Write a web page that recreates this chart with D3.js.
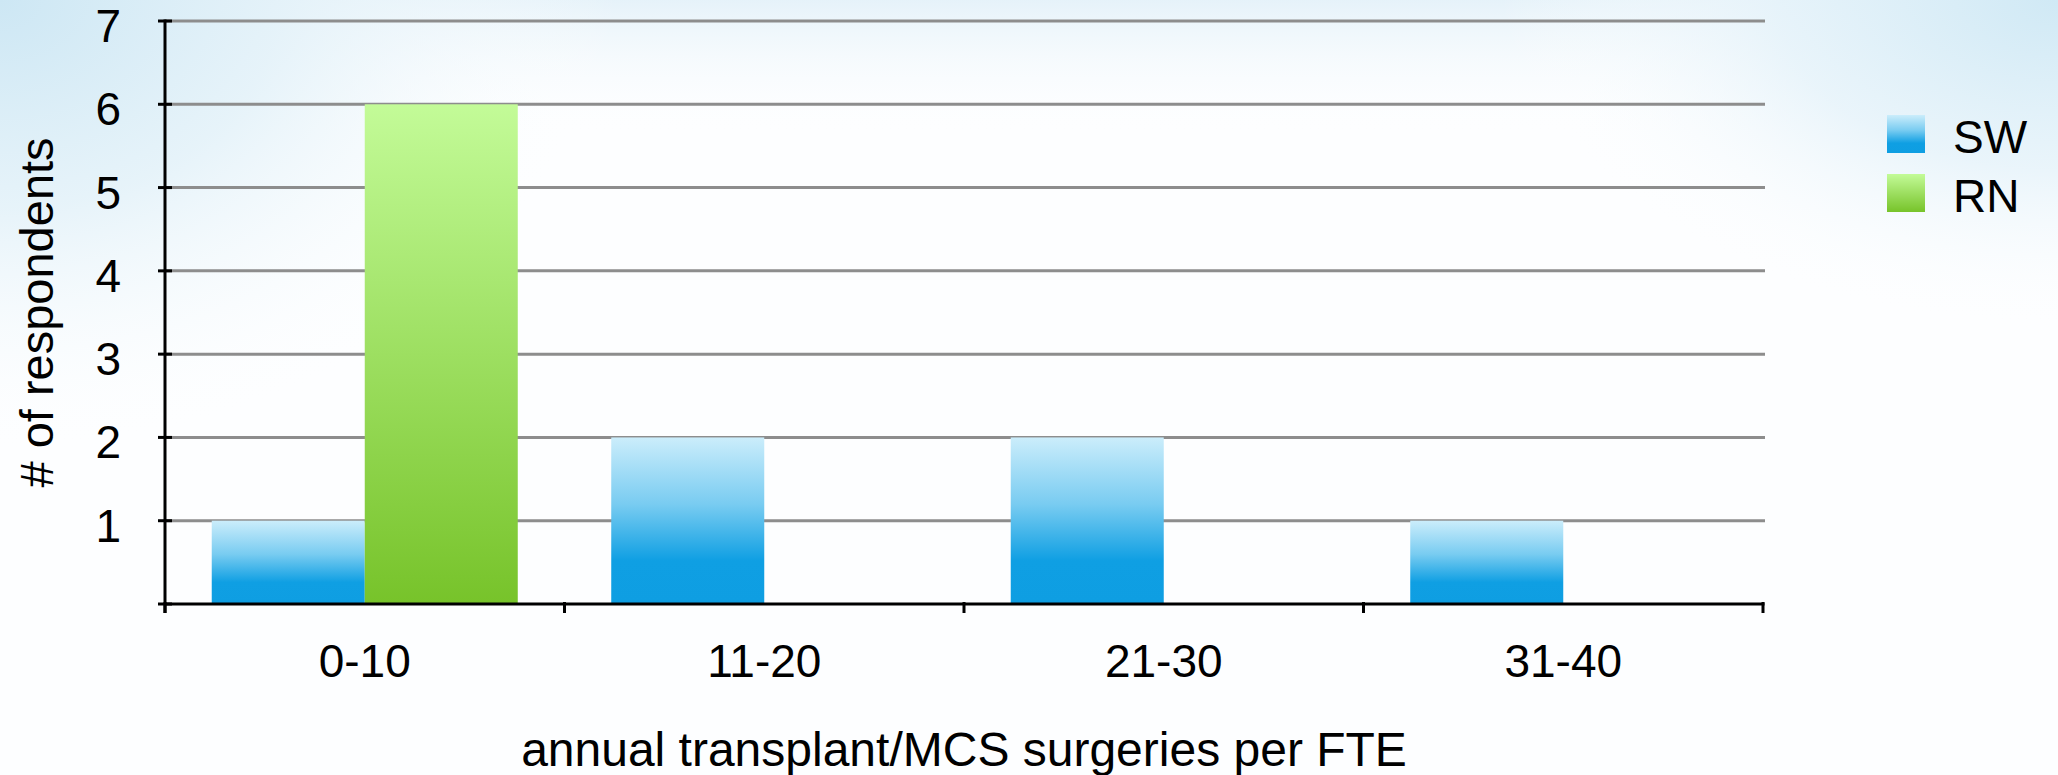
<!DOCTYPE html>
<html>
<head>
<meta charset="utf-8">
<script src="https://cdn.jsdelivr.net/npm/d3@7"></script>
<style>
  html, body { margin: 0; padding: 0; background: #ffffff; }
  svg { display: block; font-family: "Liberation Sans", Arial, Helvetica, sans-serif; }
</style>
</head>
<body>
<svg id="chart" width="2058" height="775"></svg>
<script>
// Survey counts by annual surgery volume per FTE
const categories = ["0-10", "11-20", "21-30", "31-40"];
const seriesNames = ["SW", "RN"];
const swValues = [1, 2, 2, 1];
const rnValues = [6, 0, 0, 0];
const yTicks = [0, 1, 2, 3, 4, 5, 6, 7];
const yTickLabels = ["", "1", "2", "3", "4", "5", "6", "7"];
const xTitle = "annual transplant/MCS surgeries per FTE";
const yTitle = "# of respondents";

const W = 2058, H = 775;
const plot = { left: 165, right: 1763, top: 21, bottom: 604 };
const fontSize = 46;

const svg = d3.select("#chart");
const defs = svg.append("defs");

// Soft sky-blue wash in the upper corners
const bgL = defs.append("radialGradient").attr("id", "bgL")
  .attr("gradientUnits", "userSpaceOnUse")
  .attr("cx", 0).attr("cy", 0).attr("r", 620)
  .attr("gradientTransform", "translate(0,0) scale(1,0.75)");
bgL.append("stop").attr("offset", "0%").attr("stop-color", "#cde7f4").attr("stop-opacity", 1);
bgL.append("stop").attr("offset", "45%").attr("stop-color", "#e4f2f9").attr("stop-opacity", 0.9);
bgL.append("stop").attr("offset", "100%").attr("stop-color", "#ffffff").attr("stop-opacity", 0);

const bgR = defs.append("radialGradient").attr("id", "bgR")
  .attr("gradientUnits", "userSpaceOnUse")
  .attr("cx", W).attr("cy", 0).attr("r", 560)
  .attr("gradientTransform", `translate(${W},0) scale(1,0.6) translate(${-W},0)`);
bgR.append("stop").attr("offset", "0%").attr("stop-color", "#d0e9f5").attr("stop-opacity", 1);
bgR.append("stop").attr("offset", "50%").attr("stop-color", "#e6f3fa").attr("stop-opacity", 0.85);
bgR.append("stop").attr("offset", "100%").attr("stop-color", "#ffffff").attr("stop-opacity", 0);

const bgTop = defs.append("linearGradient").attr("id", "bgTop")
  .attr("x1", 0).attr("y1", 0).attr("x2", 0).attr("y2", 1);
bgTop.append("stop").attr("offset", "0%").attr("stop-color", "#e3f1f9").attr("stop-opacity", 0.9);
bgTop.append("stop").attr("offset", "100%").attr("stop-color", "#ffffff").attr("stop-opacity", 0);

svg.append("rect").attr("width", W).attr("height", H).attr("fill", "#fdfeff");
svg.append("rect").attr("width", W).attr("height", 140).attr("fill", "url(#bgTop)");
svg.append("rect").attr("width", W).attr("height", H).attr("fill", "url(#bgL)");
svg.append("rect").attr("width", W).attr("height", H).attr("fill", "url(#bgR)");

// Bar fills: each bar carries its own vertical gradient
const gradSW = defs.append("linearGradient").attr("id", "gradSW")
  .attr("x1", 0).attr("y1", 0).attr("x2", 0).attr("y2", 1);
gradSW.append("stop").attr("offset", "0%").attr("stop-color", "#cbedfb");
gradSW.append("stop").attr("offset", "40%").attr("stop-color", "#79ccf1");
gradSW.append("stop").attr("offset", "74%").attr("stop-color", "#0f9fe3");
gradSW.append("stop").attr("offset", "100%").attr("stop-color", "#0e9ee2");

const gradRN = defs.append("linearGradient").attr("id", "gradRN")
  .attr("x1", 0).attr("y1", 0).attr("x2", 0).attr("y2", 1);
gradRN.append("stop").attr("offset", "0%").attr("stop-color", "#c3fb98");
gradRN.append("stop").attr("offset", "100%").attr("stop-color", "#77c32a");

const fills = { SW: "url(#gradSW)", RN: "url(#gradRN)" };
const values = { SW: swValues, RN: rnValues };

// Scales
const x = d3.scaleBand().domain(categories).range([plot.left, plot.right]).padding(0);
const groupInset = x.bandwidth() * 0.117;
const xSub = d3.scaleBand().domain(seriesNames)
  .range([groupInset, x.bandwidth() - groupInset]).padding(0);
const y = d3.scaleLinear().domain([0, 7]).range([plot.bottom, plot.top]);

// Horizontal grid lines
svg.append("g").selectAll("line")
  .data(yTicks.filter(d => d > 0))
  .join("line")
  .attr("x1", plot.left).attr("x2", plot.right + 2)
  .attr("y1", d => y(d)).attr("y2", d => y(d))
  .attr("stroke", "#8d8d8d").attr("stroke-width", 3);

// Bars
const rows = categories.map((c, i) => ({ cat: c, items: seriesNames.map(s => ({ s, v: values[s][i] })) }));
const groups = svg.append("g").selectAll("g")
  .data(rows).join("g")
  .attr("transform", d => `translate(${x(d.cat)},0)`);
groups.selectAll("rect")
  .data(d => d.items.filter(it => it.v > 0))
  .join("rect")
  .attr("x", d => xSub(d.s))
  .attr("width", xSub.bandwidth())
  .attr("y", d => y(d.v))
  .attr("height", d => y(0) - y(d.v))
  .attr("fill", d => fills[d.s]);

// Y axis
const yAxis = svg.append("g");
yAxis.append("line")
  .attr("x1", plot.left).attr("x2", plot.left)
  .attr("y1", y(7) - 1.5).attr("y2", y(0) + 9)
  .attr("stroke", "#000").attr("stroke-width", 3);
yAxis.selectAll("line.tick")
  .data(yTicks).join("line").attr("class", "tick")
  .attr("x1", plot.left - 7).attr("x2", plot.left + 7)
  .attr("y1", d => y(d)).attr("y2", d => y(d))
  .attr("stroke", "#000").attr("stroke-width", 3);
yAxis.selectAll("text")
  .data(yTicks).join("text")
  .attr("x", 121).attr("y", d => y(d) + 21)
  .attr("text-anchor", "end")
  .attr("font-size", fontSize).attr("fill", "#000")
  .text((d, i) => yTickLabels[i]);

// X axis
const xAxis = svg.append("g");
xAxis.append("line")
  .attr("x1", plot.left).attr("x2", plot.right + 1.5)
  .attr("y1", y(0)).attr("y2", y(0))
  .attr("stroke", "#000").attr("stroke-width", 3);
const boundaries = categories.map(c => x(c)).concat([x(categories[categories.length - 1]) + x.bandwidth()]);
xAxis.selectAll("line.tick")
  .data(boundaries).join("line").attr("class", "tick")
  .attr("x1", d => d).attr("x2", d => d)
  .attr("y1", y(0) - 2).attr("y2", y(0) + 9)
  .attr("stroke", "#000").attr("stroke-width", 3);
xAxis.selectAll("text")
  .data(categories).join("text")
  .attr("x", d => x(d) + x.bandwidth() / 2)
  .attr("y", 677)
  .attr("text-anchor", "middle")
  .attr("font-size", fontSize).attr("fill", "#000")
  .text(d => d);

// Axis titles
svg.append("text")
  .attr("x", (plot.left + plot.right) / 2).attr("y", 766)
  .attr("text-anchor", "middle")
  .attr("font-size", 48).attr("fill", "#000")
  .text(xTitle);
svg.append("text")
  .attr("transform", `translate(53,${(plot.top + plot.bottom) / 2}) rotate(-90)`)
  .attr("text-anchor", "middle")
  .attr("font-size", 47).attr("fill", "#000")
  .text(yTitle);

// Legend
const legend = svg.append("g").attr("transform", "translate(1887,115)");
const li = legend.selectAll("g").data(seriesNames).join("g")
  .attr("transform", (d, i) => `translate(0,${i * 59})`);
li.append("rect").attr("width", 38).attr("height", 38).attr("fill", d => fills[d]);
li.append("text").attr("x", 66).attr("y", 38)
  .attr("font-size", fontSize).attr("fill", "#000")
  .text(d => d);
</script>
</body>
</html>
